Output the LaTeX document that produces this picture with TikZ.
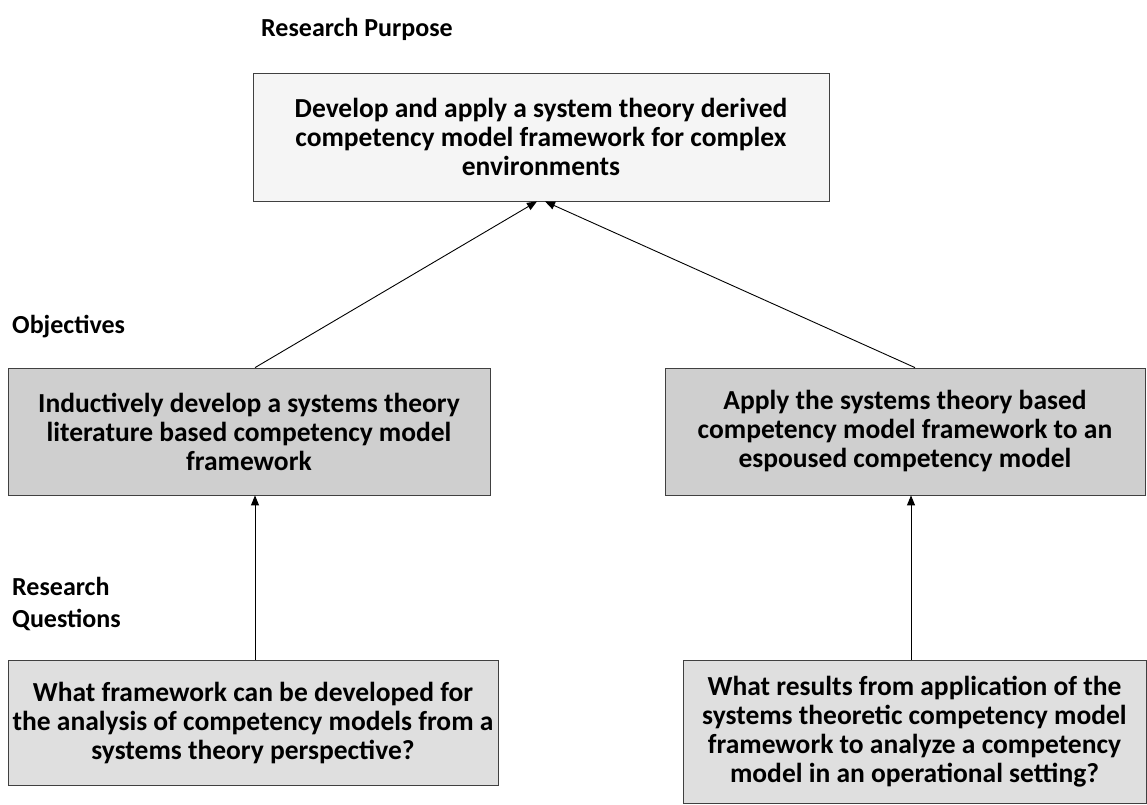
\documentclass[tikz,border=0pt]{standalone}
\usepackage{fontspec}
\setmainfont{Carlito}
\usetikzlibrary{arrows.meta}
\begin{document}
\begin{tikzpicture}[x=1pt,y=-1pt,
  box/.style={draw=black!75, line width=0.8pt, rectangle, align=center, inner sep=0pt,
    font=\fontsize{27.5}{29}\selectfont\bfseries},
  lbl/.style={anchor=west, align=left, inner sep=0pt, font=\fontsize{26}{32}\selectfont\bfseries},
  arr/.style={-{Triangle[length=10pt,width=8pt]}, line width=0.9pt, black}]
\useasboundingbox (0,0) rectangle (1147,804);
\node[lbl] (lp) at (261,29) {Research Purpose};
\node[lbl] (lo) at (12,327) {Objectives};
\node[lbl] (lq) at (12,604) {Research\\Questions};
\node[box, fill=gray!8, minimum width=576pt, minimum height=128pt] (top) at (541,137)
  {Develop and apply a system theory derived\\competency model framework for complex\\environments};
\node[box, fill=gray!38, minimum width=482pt, minimum height=127pt] (objL) at (249,431.5)
  {Inductively develop a systems theory\\literature based competency model\\framework};
\node[box, fill=gray!38, minimum width=480pt, minimum height=127pt] (objR) at (905,431.5)
  {Apply the systems theory based\\competency model framework to an\\espoused competency model};
\node[box, fill=gray!25, minimum width=490pt, minimum height=125pt] (qL) at (253,722.5)
  {What framework can be developed for\\the analysis of competency models from a\\systems theory perspective?};
\node[box, fill=gray!25, minimum width=463pt, minimum height=143pt] (qR) at (914.5,731.5)
  {What results from application of the\\systems theoretic competency model\\framework to analyze a competency\\model in an operational setting?};
\draw[arr] ([xshift=6pt]objL.north) -- ([xshift=-4pt]top.south);
\draw[arr] ([xshift=10pt]objR.north) -- ([xshift=4pt]top.south);
\draw[arr] ([xshift=2pt]qL.north) -- ([xshift=6pt]objL.south);
\draw[arr] ([xshift=-3.5pt]qR.north) -- ([xshift=6pt]objR.south);
\end{tikzpicture}
\end{document}
